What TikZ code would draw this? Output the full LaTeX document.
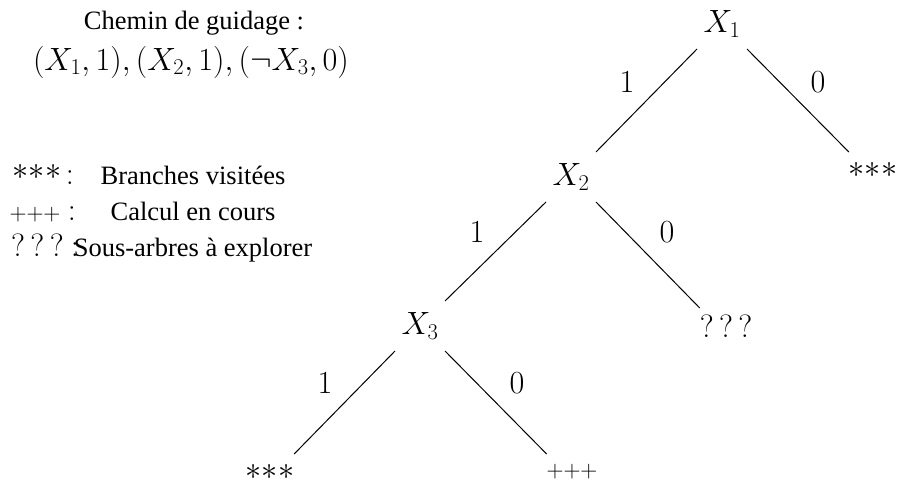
\RequirePackage{fix-cm}
\documentclass[tikz,border=0pt]{standalone}
\usepackage[no-math]{fontspec}
\setmainfont{Liberation Serif}
\newcommand\msz{\fontsize{32.2}{38}\selectfont}
\newcommand\tsz{\fontsize{26.5}{32}\selectfont}
\newcommand\plsz{\fontsize{23.5}{28}\selectfont}
\newcommand\stars{$\mathord{*}\mathord{*}\mathord{*}$}
\newcommand\pluses{$\mathord{+}\mathord{+}\mathord{+}$}
\newcommand\qmarks{$?\,?\,?$}
\tikzset{
  mathtxt/.style={font=\msz, inner sep=0pt, outer sep=0pt},
  txt/.style={font=\tsz, inner sep=0pt, outer sep=0pt, anchor=base},
  xnode/.style={mathtxt, minimum width=50pt, minimum height=50pt},
  leaf/.style={mathtxt, minimum width=44pt, minimum height=36pt},
  lbl/.style={mathtxt},
  edge/.style={draw=black, line width=1pt}
}
\begin{document}
\begin{tikzpicture}[x=1pt,y=-1pt]
\useasboundingbox (0,0) rectangle (900,489);
% header
\node[txt] (h1) at (194,30) {Chemin de guidage :};
\node[mathtxt] (h2) at (191,62) {$(X_1,1),(X_2,1),(\neg X_3,0)$};
% legend
\node[mathtxt] (s1) at (37,172) {\stars};
\node[mathtxt, anchor=base] (c1) at (70,185) {$:$};
\node[txt] (t1) at (193,185) {Branches visitées};
\node[mathtxt, font=\plsz] (s2) at (35,215) {\pluses};
\node[mathtxt, anchor=base] (c2) at (72,221) {$:$};
\node[txt] (t2) at (193,221) {Calcul en cours};
\node[mathtxt, anchor=base] (s3) at (37.5,257) {\qmarks};
\node[mathtxt, anchor=base] (c3) at (75,257) {$:$};
\node[txt] (t3) at (193,257) {Sous-arbres à explorer};
% tree nodes
\node[xnode] (x1) at (722,24) {$X_1$};
\node[xnode] (x2) at (571,177) {$X_2$};
\node[xnode] (x3) at (420,326) {$X_3$};
\node[leaf] (vr) at (873,170) {\stars};
\node[leaf] (q) at (726,326) {\qmarks};
\node[leaf] (vb) at (270,472) {\stars};
\node[leaf, font=\plsz] (p) at (572,472) {\pluses};
% edges
\draw[edge] (x1.south west) -- (x2.north east);
\draw[edge] (x1.south east) -- (vr.north west);
\draw[edge] (x2.south west) -- (x3.north east);
\draw[edge] (x2.south east) -- (q.north west);
\draw[edge] (x3.south west) -- (vb.north east);
\draw[edge] (x3.south east) -- (p.north west);
% edge labels
\node[lbl] (l1) at (627,82) {$1$};
\node[lbl] (l2) at (818,82) {$0$};
\node[lbl] (l3) at (477,232) {$1$};
\node[lbl] (l4) at (667,232) {$0$};
\node[lbl] (l5) at (325,383) {$1$};
\node[lbl] (l6) at (517,383) {$0$};
\end{tikzpicture}
\end{document}
